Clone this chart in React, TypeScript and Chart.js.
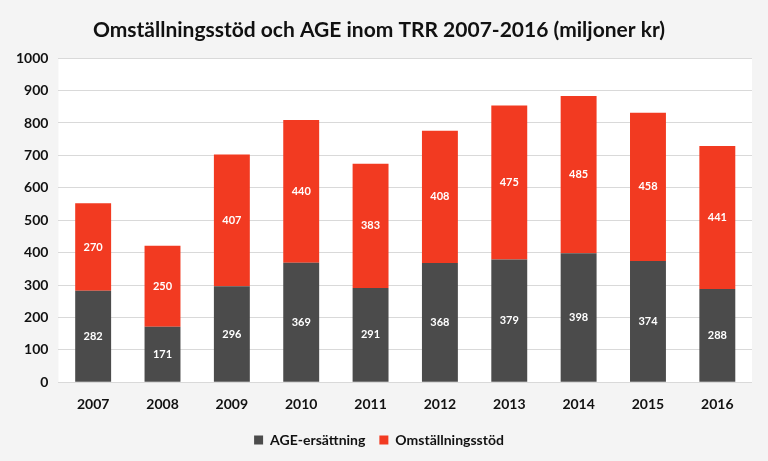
import React, { useEffect, useRef } from "react";
import { Chart, registerables } from "chart.js";

Chart.register(...registerables);

const years = ["2007", "2008", "2009", "2010", "2011", "2012", "2013", "2014", "2015", "2016"];
const ageValues = [282, 171, 296, 369, 291, 368, 379, 398, 374, 288];
const omstValues = [270, 250, 407, 440, 383, 408, 475, 485, 458, 441];
const seriesNames = ["AGE-ersättning", "Omställningsstöd"];
const titleText = "Omställningsstöd och AGE inom TRR 2007-2016 (miljoner kr)";

const FONT = "Lato, 'Open Sans', sans-serif";

const labelPlugin = {
  id: "barLabels",
  afterDatasetsDraw(chart: any) {
    const ctx = chart.ctx;
    ctx.save();
    ctx.font = `bold 11px ${FONT}`;
    ctx.fillStyle = "#ffffff";
    ctx.textAlign = "center";
    ctx.textBaseline = "middle";
    chart.data.datasets.forEach((ds: any, di: number) => {
      const meta = chart.getDatasetMeta(di);
      meta.data.forEach((bar: any, i: number) => {
        const y = (bar.y + bar.base) / 2;
        ctx.fillText(String(ds.data[i]), bar.x, y);
      });
    });
    ctx.restore();
  },
};

const bgPlugin = {
  id: "bg",
  beforeDraw(chart: any) {
    const ctx = chart.ctx;
    ctx.save();
    ctx.fillStyle = "#f4f4f4";
    ctx.fillRect(0, 0, chart.width, chart.height);
    const a = chart.chartArea;
    ctx.fillStyle = "#ffffff";
    ctx.fillRect(a.left, a.top, a.right - a.left, a.bottom - a.top);
    ctx.restore();
  },
};

export default function App() {
  const ref = useRef<HTMLCanvasElement>(null);
  useEffect(() => {
    document.body.style.margin = "0";
    const chart = new Chart(ref.current!, {
      type: "bar",
      data: {
        labels: years,
        datasets: [
          { label: seriesNames[0], data: ageValues, backgroundColor: "#4b4b4b", barPercentage: 0.74, categoryPercentage: 0.7 },
          { label: seriesNames[1], data: omstValues, backgroundColor: "#f23a21", barPercentage: 0.74, categoryPercentage: 0.7 },
        ],
      },
      options: {
        animation: false,
        responsive: false,
        layout: { padding: { left: 6, right: 16, top: 4, bottom: 4 } },
        plugins: {
          title: {
            display: true,
            text: titleText,
            color: "#111",
            font: { family: FONT, size: 21, weight: "bold" },
            padding: { top: 14, bottom: 15 },
          },
          legend: {
            position: "bottom",
            labels: {
              color: "#111",
              font: { family: FONT, size: 14, weight: "bold" },
              boxWidth: 9,
              boxHeight: 9,
              padding: 14,
            },
          },
          tooltip: { enabled: false },
        },
        scales: {
          x: {
            stacked: true,
            grid: { display: false },
            border: { display: false },
            ticks: { color: "#111", font: { family: FONT, size: 14, weight: "bold" }, padding: 6 },
          },
          y: {
            stacked: true,
            min: 0,
            max: 1000,
            ticks: {
              stepSize: 100,
              color: "#111",
              font: { family: FONT, size: 14, weight: "bold" },
              padding: 10,
              callback: (v: any) => String(v),
            },
            grid: { color: "#d9d9d9", drawTicks: false },
            border: { display: false },
          },
        },
      },
      plugins: [bgPlugin, labelPlugin],
    });
    return () => chart.destroy();
  }, []);
  return <canvas ref={ref} width={768} height={461} style={{ display: "block" }} />;
}
